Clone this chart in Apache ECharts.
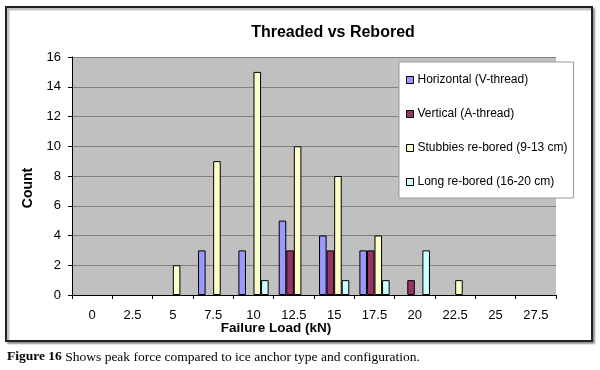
<!DOCTYPE html>
<html>
<head>
<meta charset="utf-8">
<script src="https://cdn.jsdelivr.net/npm/echarts@6/dist/echarts.min.js"></script>
<style>html,body{margin:0;padding:0;background:#fff;}#c{width:600px;height:370px;}</style>
</head>
<body>
<div id="c"></div>
<script>
var categories = ['0','2.5','5','7.5','10','12.5','15','17.5','20','22.5','25','27.5'];
var horizontal = [null,null,null,3,3,5,4,3,null,null,null,null];
var vertical   = [null,null,null,null,null,3,3,3,1,null,null,null];
var stubbies   = [null,null,2,9,15,10,8,4,null,1,null,null];
var longBored  = [null,null,null,null,1,null,1,1,3,null,null,null];
var seriesNames = ['Horizontal (V-thread)','Vertical (A-thread)','Stubbies re-bored (9-13 cm)','Long re-bored (16-20 cm)'];
var seriesColors = ['#9999ff','#993366','#ffffcc','#ccffff'];
var yTicks = {min:0, max:16, interval:2};

var chart = echarts.init(document.getElementById('c'));
var datas = [horizontal, vertical, stubbies, longBored];
var series = datas.map(function(d, i){
  return {
    name: seriesNames[i], type: 'bar', data: d,
    barGap: '0%', barCategoryGap: '25%',
    itemStyle: {color: seriesColors[i], borderColor: '#000', borderWidth: 1},
    emphasis: {disabled: true}
  };
});
var font = 'Liberation Sans, Arial, sans-serif';
chart.setOption({
  animation: false,
  title: {
    text: 'Threaded vs Rebored', left: 328, top: 20, textAlign: 'center',
    textStyle: {fontFamily: font, fontSize: 16, fontWeight: 'bold', color: '#000'}
  },
  grid: {left: 72, top: 57, right: 44, bottom: 75, show: true, backgroundColor: '#c0c0c0', borderWidth: 0},
  legend: {
    orient: 'vertical', left: 399, top: 62, width: 178,
    backgroundColor: '#fff', borderColor: '#999', borderWidth: 1,
    padding: [12, 6, 10, 7], itemGap: 22, itemWidth: 7, itemHeight: 7, icon: 'rect',
    itemStyle: {borderColor: '#000', borderWidth: 1},
    textStyle: {fontFamily: font, fontSize: 12, color: '#000', padding: [0,0,0,-1]},
    data: seriesNames
  },
  xAxis: {
    type: 'category', data: categories, boundaryGap: true,
    axisLine: {lineStyle: {color: '#000', width: 1}},
    axisTick: {show: true, length: 4, lineStyle: {color: '#000'}},
    axisLabel: {fontFamily: font, fontSize: 13, color: '#000', margin: 14, interval: 0}
  },
  yAxis: {
    type: 'value', min: yTicks.min, max: yTicks.max, interval: yTicks.interval,
    axisLine: {show: true, lineStyle: {color: '#000', width: 1}},
    axisTick: {show: true, length: 4, lineStyle: {color: '#000'}},
    axisLabel: {fontFamily: font, fontSize: 13, color: '#000', margin: 11},
    splitLine: {lineStyle: {color: '#808080', width: 1}}
  },
  graphic: [
    {type: 'rect', z: -10, shape: {x: 6, y: 7, width: 586, height: 334},
     style: {fill: '#fff', stroke: '#222', lineWidth: 2, shadowColor: 'rgba(0,0,0,0.35)', shadowOffsetX: 2, shadowOffsetY: 2, shadowBlur: 2}},
    {type: 'text', x: 28, y: 188, rotation: Math.PI / 2,
     style: {text: 'Count', fontFamily: font, fontSize: 14, fontWeight: 'bold', fill: '#000', align: 'center', verticalAlign: 'middle'}},
    {type: 'text', x: 276, y: 328,
     style: {text: 'Failure Load (kN)', fontFamily: font, fontSize: 13.5, fontWeight: 'bold', fill: '#000', align: 'center', verticalAlign: 'middle'}},
    {type: 'text', x: 7, y: 357,
     style: {text: '{b|Figure 16} Shows peak force compared to ice anchor type and configuration.',
       fontFamily: 'Liberation Serif, Times New Roman, serif', fontSize: 13.5, fill: '#000', verticalAlign: 'middle',
       rich: {b: {fontFamily: 'Liberation Serif, Times New Roman, serif', fontSize: 13.5, fontWeight: 'bold', fill: '#000'}}}}
  ],
  series: series
});
</script>
</body>
</html>
